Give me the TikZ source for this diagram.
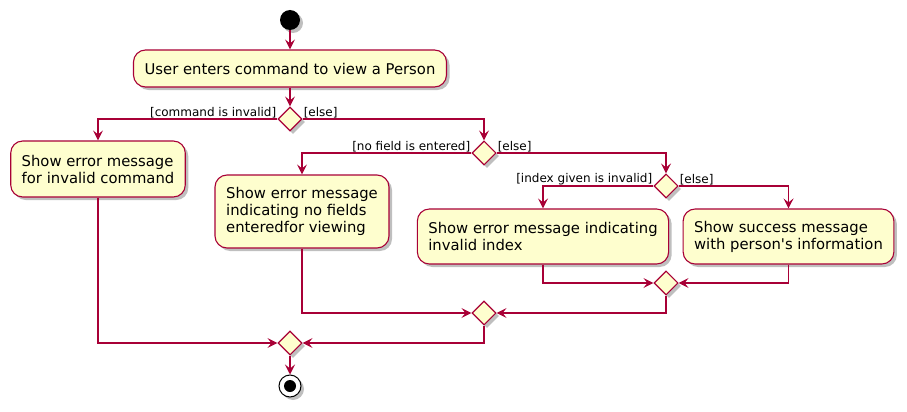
\documentclass[tikz,border=0pt]{standalone}
\usepackage{fontspec}
\setmainfont{DejaVu Sans}
\usetikzlibrary{arrows.meta,positioning,shapes.geometric,shadows}
\definecolor{umlred}{HTML}{A80036}
\definecolor{umlfill}{HTML}{FEFECE}

\begin{document}
\begin{tikzpicture}[on grid,
    shade/.style={drop shadow={shadow xshift=3pt,shadow yshift=-3pt,opacity=0.25,fill=black}},
    action/.style={rectangle,rounded corners=12pt,draw=umlred,fill=umlfill,line width=1.1pt,
      align=left,inner xsep=11pt,inner ysep=0pt,font=\fontsize{14.8}{17}\selectfont,shade},
    choice/.style={diamond,shape aspect=1,draw=umlred,fill=umlfill,line width=1.1pt,
      minimum width=24pt,minimum height=24pt,inner sep=0pt,shade},
    initnode/.style={circle,fill=black,minimum size=20pt,inner sep=0pt,shade},
    finalnode/.style={circle,draw=black,fill=white,line width=1pt,minimum size=22pt,inner sep=0pt,shade,
      path picture={\fill[black] (path picture bounding box.center) circle (6pt);}},
    guard/.style={font=\fontsize{12}{14}\selectfont,inner sep=1pt},
    flow/.style={draw=umlred,line width=1.1pt,-{Stealth[length=10pt,width=10pt,inset=4pt]}}]
  \useasboundingbox (0,0) rectangle (907pt,-412pt);

  \node[initnode] (start) at (290pt,-20pt) {};
  \node[action,minimum width=313pt,minimum height=37pt,below=48.5pt of start] (enter)
    {User enters command to view a Person};
  \node[choice,below=50.5pt of enter] (dec1) {};
  \node[action,minimum width=174pt,minimum height=56pt,below left=50pt and 192pt of dec1] (invalid)
    {Show error message\\for invalid command};
  \node[choice,below right=34pt and 194pt of dec1] (dec2) {};
  \node[action,minimum width=174pt,minimum height=73pt,below left=58.5pt and 182pt of dec2] (nofield)
    {Show error message\\indicating no fields\\enteredfor viewing};
  \node[choice,below right=33pt and 182pt of dec2] (dec3) {};
  \node[action,minimum width=248pt,minimum height=55pt,below left=50.5pt and 123pt of dec3] (badindex)
    {Show error message indicating\\invalid index};
  \node[action,minimum width=203pt,minimum height=55pt,below right=50.5pt and 122.5pt of dec3] (success)
    {Show success message\\with person\textquotesingle s information};
  \node[choice,below=97pt of dec3] (merge3) {};
  \node[choice,below=160pt of dec2] (merge2) {};
  \node[choice,below=224pt of dec1] (merge1) {};
  \node[finalnode,below=43pt of merge1] (stop) {};

  % guards
  \node[guard,anchor=south east] (g1) at (dec1.west) {[command is invalid]};
  \node[guard,anchor=south west] (g2) at (dec1.east) {[else]};
  \node[guard,anchor=south east] (g3) at (dec2.west) {[no field is entered]};
  \node[guard,anchor=south west] (g4) at (dec2.east) {[else]};
  \node[guard,anchor=south east] (g5) at (dec3.west) {[index given is invalid]};
  \node[guard,anchor=south west] (g6) at (dec3.east) {[else]};

  \draw[flow] (start) -- (enter);
  \draw[flow] (enter) -- (dec1);
  \draw[flow] (dec1.west) -| (invalid.north);
  \draw[flow] (dec1.east) -| (dec2.north);
  \draw[flow] (dec2.west) -| (nofield.north);
  \draw[flow] (dec2.east) -| (dec3.north);
  \draw[flow] (dec3.west) -| (badindex.north);
  \draw[flow] (dec3.east) -| (success.north);
  \draw[flow] (badindex.south) |- (merge3.west);
  \draw[flow] (success.south) |- (merge3.east);
  \draw[flow] (nofield.south) |- (merge2.west);
  \draw[flow] (merge3.south) |- (merge2.east);
  \draw[flow] (invalid.south) |- (merge1.west);
  \draw[flow] (merge2.south) |- (merge1.east);
  \draw[flow] (merge1.south) -- (stop.north);
\end{tikzpicture}
\end{document}
